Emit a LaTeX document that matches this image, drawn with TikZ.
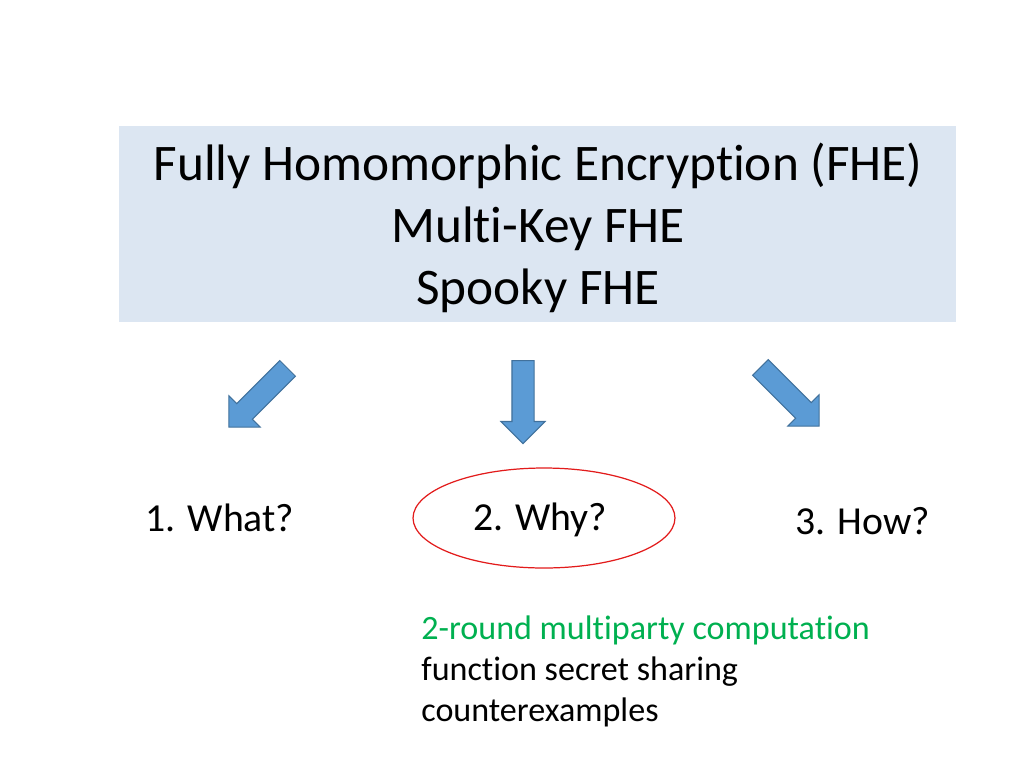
\documentclass[tikz,border=0pt]{standalone}
\usepackage{fontspec}
\setmainfont{Carlito}[Ligatures=NoCommon]
\usepackage{tikz}
\usetikzlibrary{shapes.geometric, shapes.arrows}
\definecolor{boxblue}{HTML}{DCE6F2}
\definecolor{arrowblue}{HTML}{5B9BD5}
\definecolor{arrowedge}{HTML}{41719C}
\definecolor{ringred}{HTML}{E21B1B}
\definecolor{topicgreen}{HTML}{00B050}
\tikzstyle{topicbox} = [rectangle, fill=boxblue, minimum width=16.74cm, minimum height=3.92cm, inner sep=0pt]
\tikzstyle{bigarrow} = [single arrow, draw=arrowedge, fill=arrowblue, line width=0.6pt, inner xsep=0pt, inner ysep=0.21cm, minimum height=1.66cm, single arrow head extend=0.22cm, single arrow tip angle=90, anchor=tail]
\tikzstyle{question} = [font=\fontsize{22.6}{27}\selectfont, inner sep=0pt]
\tikzstyle{ring} = [ellipse, draw=ringred, line width=0.7pt, minimum width=5.24cm, minimum height=2cm]

\begin{document}
\begin{tikzpicture}[x=0.02cm, y=-0.02cm]
	\useasboundingbox (0,0) rectangle (1024,768);
	\node(topics) [topicbox] at (537.5,224) {};
	\node(titles) [align=center, font=\fontsize{29.2}{35.2}\selectfont] at (538,228) {Fully Homomorphic Encryption (FHE)\\Multi-Key FHE\\Spooky FHE};
	
	\node(arrow_what) [bigarrow, rotate=-135] at (288,368) {};
	\node(arrow_why) [bigarrow, rotate=-90] at (523,360) {};
	\node(arrow_how) [bigarrow, rotate=-45] at (760,367) {};
	
	\node(what) [question] at (220,518) {1. What?};
	\node(why) [question] at (540,520) {2. Why?};
	\node(how) [question] at (863,521) {3. How?};
	\node(why_ring) [ring] at (544,518) {};
	
	\node(uses) [anchor=north west, align=left, inner sep=0pt, font=\fontsize{19.4}{23.6}\selectfont] at (421,615) {\textcolor{topicgreen}{2-round multiparty computation}\\function secret sharing\\counterexamples};
\end{tikzpicture}
\end{document}
